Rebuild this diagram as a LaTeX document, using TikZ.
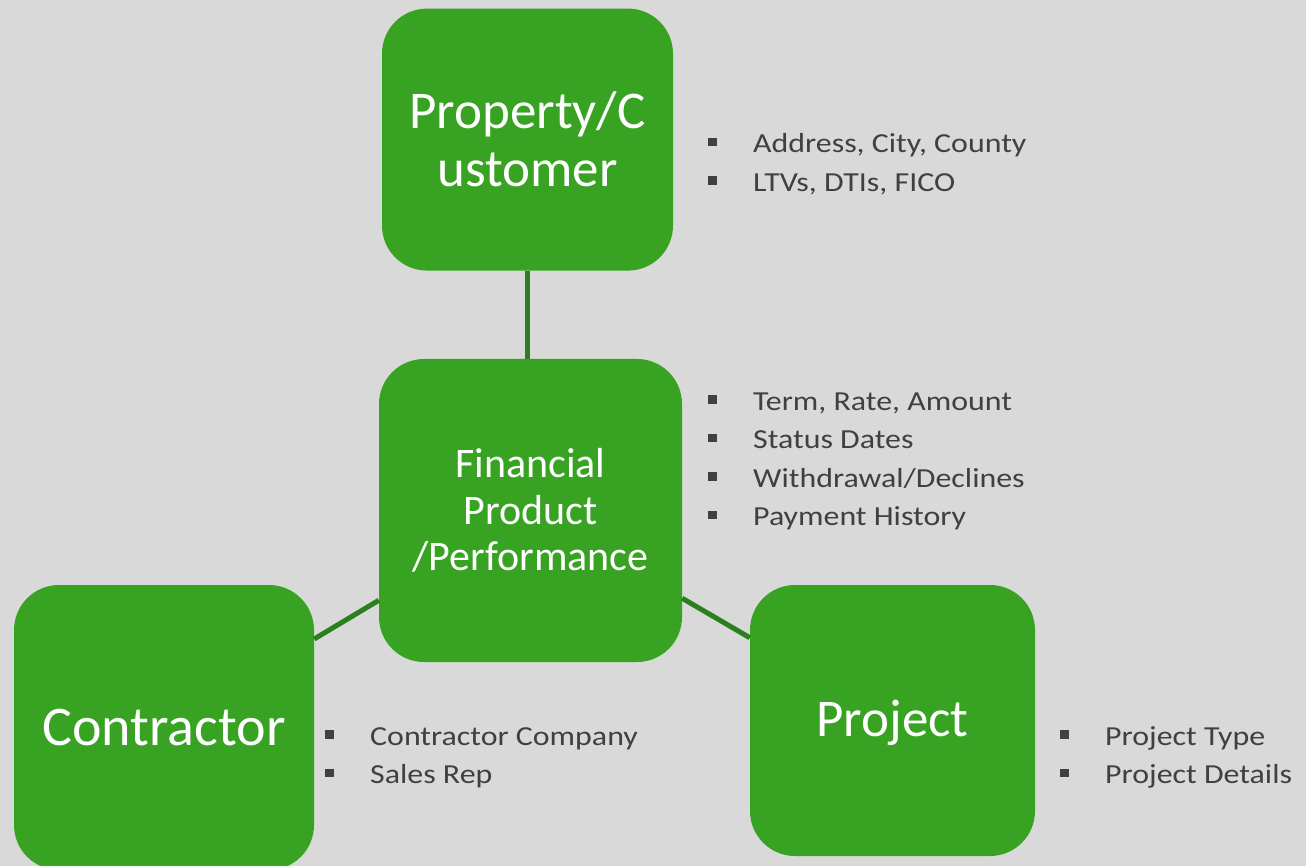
\documentclass[tikz,border=0pt]{standalone}
\usepackage{fontspec}
\setmainfont{Carlito}
\newfontfamily\notefont[FakeStretch=1.16]{Carlito}
\usetikzlibrary{positioning}
\definecolor{boxgreen}{RGB}{56,163,35}
\definecolor{linkgreen}{RGB}{42,128,28}
\definecolor{slidegray}{RGB}{217,217,217}
\definecolor{notegray}{RGB}{64,64,64}
\newcommand{\sqbul}{\makebox[45pt][l]{\raisebox{6.5pt}{\rule{8.5pt}{8.5pt}}}}

\begin{document}
\begin{tikzpicture}[x=1pt,y=-1pt]
    \tikzstyle{cell} = [rectangle, rounded corners=45pt, align=center, fill=boxgreen, text=white, inner sep=0pt]
    \tikzstyle{notes} = [anchor=base west, inner sep=0pt, text=notegray, font=\notefont\fontsize{27.5}{38.5}\selectfont]
    \tikzstyle{link} = [draw=linkgreen, line width=5pt]
    \fill[slidegray] (0,0) rectangle (1306,866);
    \useasboundingbox (0,0) rectangle (1306,866);

    \node (fin) [cell, minimum width=303pt, minimum height=303pt, font=\fontsize{42}{46.5}\selectfont] at (530.5,510.5) {Financial\\Product\\/Performance};
    \node (prop) [cell, minimum width=291pt, minimum height=262pt, font=\fontsize{53}{58}\selectfont, above = 88pt of fin, xshift=-3pt] {Property/C\\ustomer};
    \node (con) [cell, minimum width=300pt, minimum height=285pt, font=\fontsize{56}{60}\selectfont] at (164,727.5) {Contractor};
    \node (proj) [cell, minimum width=285pt, minimum height=271pt, text depth=5pt, font=\fontsize{53}{60}\selectfont] at (892.5,720.5) {Project};

    \node (propnotes) [notes] at (708,153) {\begin{tabular}[t]{@{}l@{}}\sqbul Address, City, County\\ \sqbul LTVs, DTIs, FICO\end{tabular}};
    \node (finnotes) [notes] at (708,410) {\begin{tabular}[t]{@{}l@{}}\sqbul Term, Rate, Amount\\ \sqbul Status Dates\\ \sqbul Withdrawal/Declines\\ \sqbul Payment History\end{tabular}};
    \node (connotes) [notes] at (325,745) {\begin{tabular}[t]{@{}l@{}}\sqbul Contractor Company\\ \sqbul Sales Rep\end{tabular}};
    \node (projnotes) [notes] at (1060,745) {\begin{tabular}[t]{@{}l@{}}\sqbul Project Type\\ \sqbul Project Details\end{tabular}};

    \draw [link] (prop.south) -- (prop.south |- fin.north);
    \draw [link] (fin) -- (con);
    \draw [link] (fin) -- (proj);
\end{tikzpicture}
\end{document}
